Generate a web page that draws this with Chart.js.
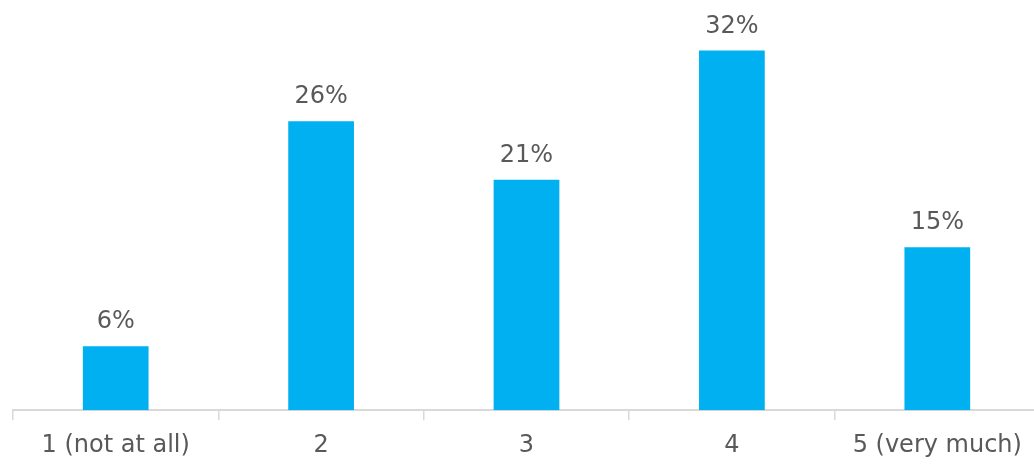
<!DOCTYPE html>
<html>
<head>
<meta charset="utf-8">
<script src="https://cdn.jsdelivr.net/npm/chart.js@4/dist/chart.umd.min.js"></script>
<style>
  html, body { margin: 0; padding: 0; background: #ffffff; overflow: hidden; }
  #wrap { width: 1041px; height: 472px; }
</style>
</head>
<body>
<div id="wrap"><canvas id="chart"></canvas></div>
<script>
// categories and share of answers (percent)
const categories = ["1 (not at all)", "2", "3", "4", "5 (very much)"];
const shares = [5.7, 25.7, 20.5, 32.0, 14.5];

const barColor = "#00b0f0";
const textColor = "#595959";
const axisColor = "#d9d9d9";
const fontFamily = "'DejaVu Sans'";

// draws the "NN%" labels above each bar
const valueLabels = {
  id: "valueLabels",
  afterDatasetsDraw(chart) {
    const ctx = chart.ctx;
    const meta = chart.getDatasetMeta(0);
    ctx.save();
    ctx.font = "24px " + fontFamily;
    ctx.fillStyle = textColor;
    ctx.textAlign = "center";
    ctx.textBaseline = "alphabetic";
    meta.data.forEach((bar, i) => {
      ctx.fillText(Math.round(shares[i]) + "%", bar.x, bar.y - 18);
    });
    ctx.restore();
  }
};

new Chart(document.getElementById("chart"), {
  type: "bar",
  plugins: [valueLabels],
  data: {
    labels: categories,
    datasets: [{
      data: shares,
      backgroundColor: barColor,
      borderWidth: 0,
      barPercentage: 0.32,
      categoryPercentage: 1.0
    }]
  },
  options: {
    responsive: true,
    maintainAspectRatio: false,
    animation: false,
    layout: { padding: { left: 13, right: 1, top: 0, bottom: 1 } },
    plugins: {
      legend: { display: false },
      tooltip: { enabled: false }
    },
    scales: {
      x: {
        offset: true,
        grid: {
          offset: true,
          drawOnChartArea: false,
          drawTicks: true,
          tickLength: 10,
          color: axisColor,
          lineWidth: 1.5
        },
        border: { display: true, color: axisColor, width: 2 },
        ticks: {
          color: textColor,
          font: { family: fontFamily, size: 24 },
          padding: 11,
          maxRotation: 0,
          autoSkip: false
        }
      },
      y: {
        display: false,
        min: 0,
        max: 36.5
      }
    }
  }
});
</script>
</body>
</html>
